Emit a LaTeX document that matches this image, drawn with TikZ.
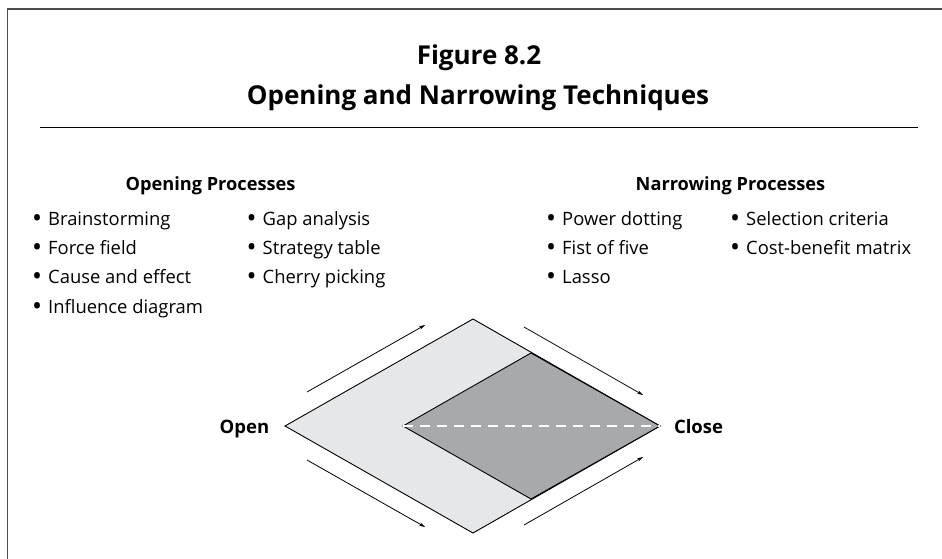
\documentclass[tikz,border=0pt]{standalone}
\usepackage{fontspec}
\setmainfont{Open Sans}
\usetikzlibrary{arrows.meta}
\definecolor{lightfill}{HTML}{E6E7E8}
\definecolor{darkfill}{HTML}{A7A9AC}
\definecolor{framegray}{HTML}{4D4D4D}
\newcommand{\bulletmark}{\makebox[13.5pt][l]{\hspace*{-2.5pt}\raisebox{-2.2pt}{\scalebox{1.45}{•}}}}
\tikzset{
  titletext/.style={font=\bfseries\fontsize{26}{30}\selectfont, anchor=base, inner sep=0pt},
  headtext/.style={font=\bfseries\fontsize{18.2}{20}\selectfont, anchor=base, inner sep=0pt},
  itemtext/.style={font=\fontsize{18.4}{20}\selectfont, anchor=base west, inner sep=0pt},
  labeltext/.style={font=\bfseries\fontsize{18.5}{20}\selectfont, anchor=base, inner sep=0pt},
  flowarrow/.style={line width=0.8pt, -{Stealth[length=6pt,width=3.6pt]}},
  shapeedge/.style={line width=0.9pt, draw=black, line join=miter}
}
\begin{document}
\begin{tikzpicture}[x=1pt,y=-1pt]
\useasboundingbox[fill=white] (0,0) rectangle (942,559);
% frame
\coordinate (fbl) at (7.5,559);
\coordinate (ftl) at (7.5,9);
\coordinate (ftr) at (942,9);
\draw[framegray, line width=1.6pt] (fbl) -- (ftl) -- (ftr);
% title
\node[titletext] (t1) at (479,65) {Figure 8.2};
\node[titletext] (t2) at (478,105) {Opening and Narrowing Techniques};
\coordinate (rl) at (40,127.5);
\coordinate (rr) at (918,127.5);
\draw[line width=1pt] (rl) -- (rr);
% headers
\node[headtext] (h1) at (210.5,190) {Opening Processes};
\node[headtext] (h2) at (730.5,190) {Narrowing Processes};
% opening items
\node[itemtext] (o1) at (34.5,225) {\bulletmark Brainstorming};
\node[itemtext] (o2) at (34.5,254.3) {\bulletmark Force field};
\node[itemtext] (o3) at (34.5,283.6) {\bulletmark Cause and effect};
\node[itemtext] (o4) at (34.5,313) {\bulletmark Influence diagram};
\node[itemtext] (o5) at (249,225) {\bulletmark Gap analysis};
\node[itemtext] (o6) at (249,254.3) {\bulletmark Strategy table};
\node[itemtext] (o7) at (249,283.6) {\bulletmark Cherry picking};
% narrowing items
\node[itemtext] (n1) at (548.5,225) {\bulletmark Power dotting};
\node[itemtext] (n2) at (548.5,254.3) {\bulletmark Fist of five};
\node[itemtext] (n3) at (548.5,283.6) {\bulletmark Lasso};
\node[itemtext] (n4) at (732.5,225) {\bulletmark Selection criteria};
\node[itemtext] (n5) at (732.5,254.3) {\bulletmark Cost-benefit matrix};
% diamond
\coordinate (L) at (285,426);
\coordinate (T) at (473,319);
\coordinate (R) at (660,426);
\coordinate (B) at (473,533);
\coordinate (iL) at (403,426);
\coordinate (iT) at (531,353);
\coordinate (iB) at (531,499);
\filldraw[shapeedge, fill=lightfill] (L) -- (T) -- (R) -- (B) -- cycle;
\filldraw[shapeedge, fill=darkfill] (iL) -- (iT) -- (R) -- (iB) -- cycle;
\draw[white, line width=2pt, dash pattern=on 10pt off 7pt] (iL) -- (R);
% labels
\node[labeltext] (open) at (244.5,433) {Open};
\node[labeltext] (close) at (698.5,433) {Close};
% arrows
\coordinate (a1s) at (307,392); \coordinate (a1e) at (425,325);
\coordinate (a2s) at (307,460); \coordinate (a2e) at (425,527);
\coordinate (a3s) at (524,327); \coordinate (a3e) at (643,395);
\coordinate (a4s) at (524,525); \coordinate (a4e) at (643,457);
\draw[flowarrow] (a1s) -- (a1e);
\draw[flowarrow] (a2s) -- (a2e);
\draw[flowarrow] (a3s) -- (a3e);
\draw[flowarrow] (a4s) -- (a4e);
\end{tikzpicture}
\end{document}
